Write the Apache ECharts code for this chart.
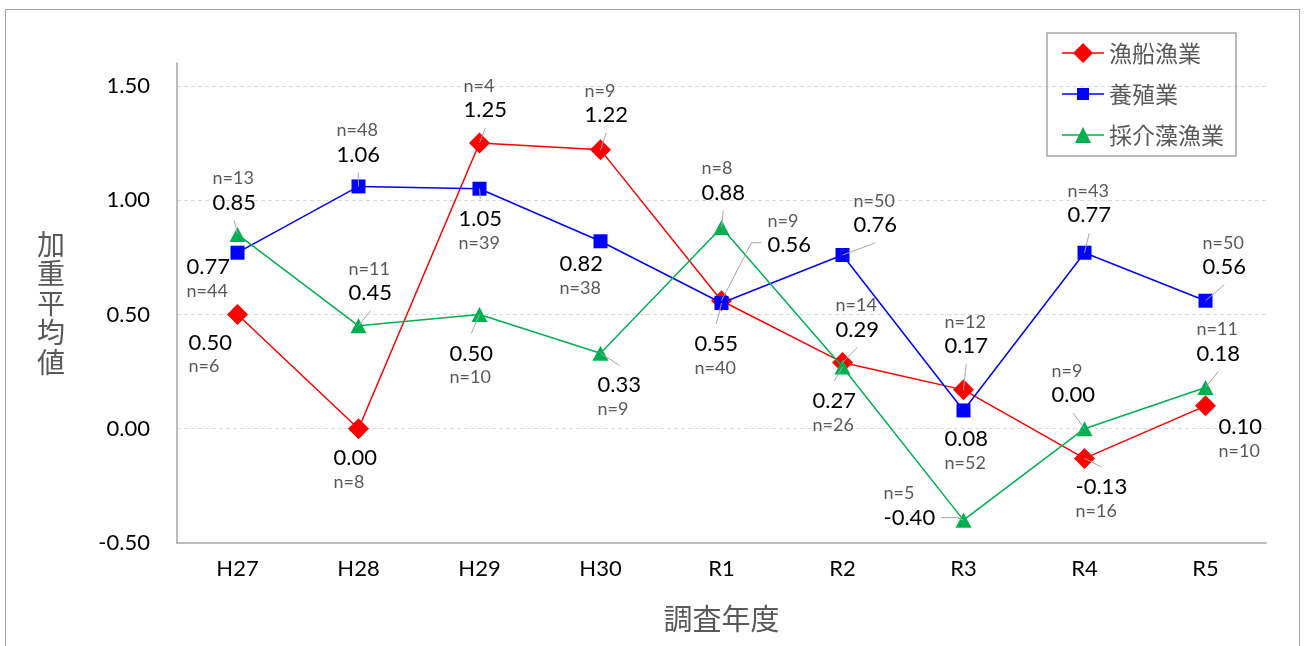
<!DOCTYPE html>
<html>
<head>
<meta charset="utf-8">
<script src="https://cdn.jsdelivr.net/npm/echarts@6/dist/echarts.min.js"></script>
<style>
html,body{margin:0;padding:0;background:#fff;}
#c{width:1306px;height:646px;position:absolute;left:0;top:0;}
#frame{position:absolute;left:5px;top:9px;width:1295px;height:700px;box-sizing:border-box;border:1.5px solid #A6A6A6;pointer-events:none;}
</style>
</head>
<body>
<div id="c"></div>
<div id="frame"></div>
<script>
// ---- data ----
const categories = ['H27', 'H28', 'H29', 'H30', 'R1', 'R2', 'R3', 'R4', 'R5'];
const seriesNames = ['漁船漁業', '養殖業', '採介藻漁業'];
const fishingValues = [0.50, 0.00, 1.25, 1.22, 0.56, 0.29, 0.17, -0.13, 0.10];
const fishingN = [6, 8, 4, 9, 9, 14, 12, 16, 10];
const aquacultureValues = [0.77, 1.06, 1.05, 0.82, 0.55, 0.76, 0.08, 0.77, 0.56];
const aquacultureN = [44, 48, 39, 38, 40, 50, 52, 43, 50];
const gatheringValues = [0.85, 0.45, 0.50, 0.33, 0.88, 0.27, -0.40, 0.00, 0.18];
const gatheringN = [13, 11, 10, 9, 8, 26, 5, 9, 11];
const yMin = -0.5, yMax = 1.6, yInterval = 0.5;

// ---- label layout (offsets of label relative to its point; n above/below; leader attach side) ----
const fishingLabelLayout = [
  [-49, 28, 'below', ''], [-25, 29, 'below', ''], [-16, -33, 'above', 'b'], [-16, -35, 'above', 'b'],
  [46, -56, 'above', 'l'], [-7, -33, 'above', 'b'], [-19, -44, 'above', 'b'], [-9, 28.5, 'below', 't'],
  [13, 21, 'below', '']
];
const aquacultureLabelLayout = [
  [-51, 14, 'below', ''], [-22, -32, 'above', 'b'], [-21, 30, 'below', 't'], [-41, 23, 'below', ''],
  [-27, 41, 'below', 't'], [11, -30, 'above', 'b'], [-19, 28.5, 'below', ''], [-17, -37.5, 'above', 'b'],
  [-3, -34, 'above', 'b']
];
const gatheringLabelLayout = [
  [-25, -32, 'above', 'b'], [-10, -33, 'above', 'b'], [-30, 39, 'below', 't'], [-3, 32, 'below', 't'],
  [-20, -35, 'above', 'b'], [-30, 34, 'below', 't'], [-80, -2.5, 'above', 'r'], [-33, -33.5, 'above', 'b'],
  [-9, -34, 'above', 'b']
];

const FONT = 'Lato, "Noto Sans CJK JP", sans-serif';
const CJK = '"Noto Sans CJK JP", "Noto Sans CJK SC", sans-serif';

const seriesDefs = [
  { name: seriesNames[0], values: fishingValues, ns: fishingN, layout: fishingLabelLayout, color: '#FF0000', symbol: 'diamond', size: [21, 21] },
  { name: seriesNames[1], values: aquacultureValues, ns: aquacultureN, layout: aquacultureLabelLayout, color: '#0000FF', symbol: 'rect', size: [14, 14] },
  { name: seriesNames[2], values: gatheringValues, ns: gatheringN, layout: gatheringLabelLayout, color: '#00B050', symbol: 'triangle', size: [16, 15] }
];

const legendIcons = [
  'path://M0 0M42 20M0 9.25L42 9.25L42 10.75L0 10.75ZM21 0L31 10L21 20L11 10Z',
  'path://M0 0M42 20M0 9.25L42 9.25L42 10.75L0 10.75ZM15 4L27 4L27 16L15 16Z',
  'path://M0 0M42 20M0 9.25L42 9.25L42 10.75L0 10.75ZM21 2L29 18L13 18Z'
];

const fmt = v => v.toFixed(2);
const measureCtx = document.createElement('canvas').getContext('2d');
function textW(t, font) { measureCtx.font = font; return measureCtx.measureText(t).width; }

const lineSeries = seriesDefs.map((d, s) => ({
  name: d.name,
  type: 'line',
  z: 2 + s,
  symbol: d.symbol,
  symbolSize: d.size,
  color: d.color,
  lineStyle: { color: d.color, width: 1.5 },
  itemStyle: { color: d.color, borderWidth: 0 },
  emphasis: { disabled: true },
  data: d.values.map((v, i) => ({
    value: v,
    label: { offset: [d.layout[i][0], d.layout[i][1] + (d.layout[i][2] === 'above' ? -11 : 11)] }
  })),
  label: {
    show: true,
    position: 'inside',
    align: 'left',
    verticalAlign: 'middle',
    formatter: p => {
      const i = p.dataIndex;
      const vt = '{v|' + fmt(d.values[i]) + '}';
      const nt = '{n|n=' + d.ns[i] + '}';
      return d.layout[i][2] === 'above' ? nt + '\n' + vt : vt + '\n' + nt;
    },
    rich: {
      v: { fontFamily: FONT, fontSize: 22, color: '#000000', lineHeight: 26, align: 'left' },
      n: { fontFamily: FONT, fontSize: 18, color: '#595959', lineHeight: 22, align: 'left' }
    }
  }
}));

const leaderData = [];
seriesDefs.forEach((d, s) => d.values.forEach((v, i) => { if (d.layout[i][3]) leaderData.push([i, v, s]); }));

const leaderSeries = {
  type: 'custom',
  silent: true,
  z: 10,
  data: leaderData,
  renderItem: (params, api) => {
    const i = api.value(0), v = api.value(1), s = api.value(2);
    const d = seriesDefs[s];
    const lay = d.layout[i];
    const p = api.coord([i, v]);
    const left = p[0] + lay[0];
    const vy = p[1] + lay[1];
    const w = Math.max(textW(fmt(d.values[i]), '22px Lato'), textW('n=' + d.ns[i], '18px Lato'));
    let pts;
    if (lay[3] === 'b') pts = [[left + w / 2, vy + 18], p];
    else if (lay[3] === 't') pts = [[left + w / 2, vy - 20], p];
    else if (lay[3] === 'l') pts = [[left - 6, vy - 2], [left - 16, vy - 2], p];
    else pts = [[left + w + 6, vy], [left + w + 22, vy], p];
    return { type: 'polyline', shape: { points: pts }, style: { stroke: '#A6A6A6', lineWidth: 1, fill: null } };
  }
};

const chart = echarts.init(document.getElementById('c'));
chart.setOption({
  animation: false,
  backgroundColor: '#ffffff',
  grid: { left: 177, right: 40, top: 63, bottom: 103 },
  legend: {
    orient: 'vertical',
    left: 1047,
    top: 33,
    padding: [6, 12, 7, 15],
    itemGap: 13,
    itemWidth: 42,
    itemHeight: 20,
    itemTextGap: 6,
    borderColor: '#A6A6A6',
    borderWidth: 1.5,
    selectedMode: false,
    itemStyle: { borderWidth: 0 },
    textStyle: { fontFamily: CJK, fontSize: 23, color: '#595959', lineHeight: 28 },
    data: seriesNames.map((n, k) => ({ name: n, icon: legendIcons[k] }))
  },
  xAxis: {
    type: 'category',
    data: categories,
    boundaryGap: true,
    axisLine: { show: true, onZero: false, lineStyle: { color: '#A6A6A6', width: 1.5 } },
    axisTick: { show: false },
    axisLabel: { fontFamily: FONT, fontSize: 22, color: '#000000', margin: 15 },
    splitLine: { show: false },
    name: '調査年度',
    nameLocation: 'middle',
    nameGap: 61,
    nameTextStyle: { fontFamily: CJK, fontSize: 29, color: '#595959' }
  },
  yAxis: {
    type: 'value',
    min: yMin,
    max: yMax,
    interval: yInterval,
    axisLine: { show: true, lineStyle: { color: '#A6A6A6', width: 1.5 } },
    axisTick: { show: false },
    axisLabel: { fontFamily: FONT, fontSize: 22, color: '#000000', margin: 27, showMaxLabel: false,
      formatter: v => (Math.abs(v - yMax) < 1e-9 ? '' : v.toFixed(2)) },
    splitLine: { show: true, showMinLine: false, showMaxLine: false, lineStyle: { color: '#D9D9D9', width: 1, type: [4, 3] } },
    name: '加\n重\n平\n均\n値',
    nameLocation: 'middle',
    nameGap: 112,
    nameRotate: 0,
    nameTextStyle: { fontFamily: CJK, fontSize: 28, color: '#595959', lineHeight: 29.5 }
  },
  series: lineSeries.concat([leaderSeries])
});
</script>
</body>
</html>
